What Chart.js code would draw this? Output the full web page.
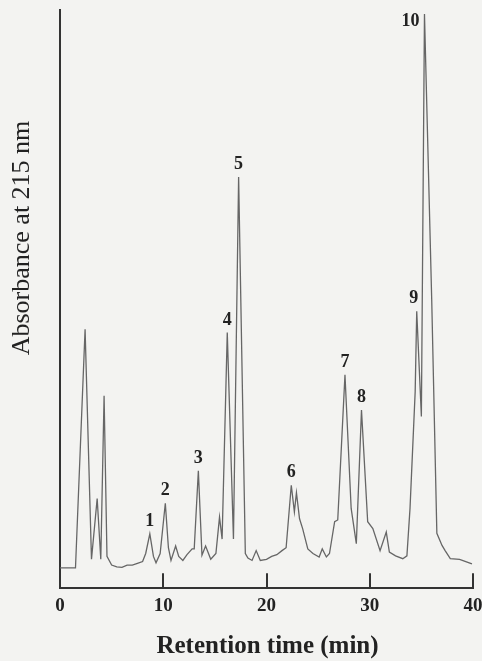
<!DOCTYPE html>
<html>
<head>
<meta charset="utf-8">
<script src="https://cdn.jsdelivr.net/npm/chart.js@4.4.1/dist/chart.umd.min.js"></script>
<style>
  html, body { margin: 0; padding: 0; background: #f3f3f1; }
  #wrap { width: 482px; height: 661px; }
</style>
</head>
<body>
<div id="wrap"><canvas id="c" width="482" height="661"></canvas></div>
<script>
// Retention time (min)
const times = [
  0, 1.5, 2.43, 3.05, 3.6, 3.95, 4.27, 4.55, 5.0, 5.5, 6.0, 6.5, 7.0, 7.5, 8.0, 8.3,
  8.7, 9.05, 9.3, 9.7, 10.2, 10.5, 10.75, 11.2, 11.5, 11.9, 12.3, 12.8, 13.0, 13.4,
  13.75, 14.1, 14.6, 15.1, 15.45, 15.7, 16.2, 16.8, 17.3, 17.95, 18.2, 18.6, 19.0,
  19.4, 20.0, 20.5, 21.0, 21.5, 21.9, 22.4, 22.7, 22.9, 23.2, 23.5, 24.0, 24.5,
  25.1, 25.4, 25.8, 26.1, 26.6, 26.9, 27.6, 28.2, 28.7, 29.2, 29.8, 30.3, 31.0,
  31.6, 31.9, 32.5, 33.2, 33.6, 33.9, 34.4, 34.55, 35.0, 35.3, 36.0, 36.5, 37.0,
  37.3, 37.8, 38.7, 39.3, 39.9
];
// Absorbance at 215 nm (relative units)
const absorbance = [
  3.5, 3.5, 44.8, 5.0, 15.5, 5.0, 33.3, 5.5, 4.0, 3.7, 3.6, 4.0, 4.0, 4.3, 4.6, 6.0,
  9.4, 5.5, 4.4, 6.0, 14.7, 7.0, 4.8, 7.3, 5.5, 4.8, 5.8, 6.8, 6.8, 20.3,
  5.7, 7.3, 5.0, 6.0, 12.3, 8.5, 44.2, 8.5, 71.1, 6.0, 5.2, 4.8, 6.5,
  4.8, 5.0, 5.5, 5.8, 6.5, 7.0, 17.8, 13.2, 16.5, 12.0, 10.3, 6.8, 6.0,
  5.4, 6.8, 5.4, 6.0, 11.5, 11.8, 36.9, 13.8, 7.7, 30.8, 11.5, 10.3, 6.5,
  9.7, 6.25, 5.6, 5.1, 5.6, 13.8, 34.0, 47.9, 29.7, 99.3, 50.0, 9.5, 7.4,
  6.5, 5.1, 5.0, 4.6, 4.2
];
// Numbered peaks
const peakNumbers = ['1', '2', '3', '4', '5', '6', '7', '8', '9', '10'];
const peakTimes   = [8.7, 10.2, 13.4, 16.2, 17.3, 22.4, 27.6, 29.2, 34.55, 35.3];
const peakHeights = [9.4, 14.7, 20.3, 44.2, 71.1, 17.8, 36.9, 30.8, 47.9, 99.3];
// Axis ticks
const xTickValues = [0, 10, 20, 30, 40];
const xTitle = 'Retention time (min)';
const yTitle = 'Absorbance at 215 nm';

const points = times.map((t, i) => ({ x: t, y: absorbance[i] }));
const SERIF = '"Liberation Serif", "DejaVu Serif", serif';

const bgPlugin = {
  id: 'bg',
  beforeDraw(chart) {
    const ctx = chart.ctx;
    ctx.save();
    ctx.fillStyle = '#f3f3f1';
    ctx.fillRect(0, 0, chart.width, chart.height);
    ctx.restore();
  }
};

const annotPlugin = {
  id: 'annot',
  afterDraw(chart) {
    const ctx = chart.ctx;
    const xs = chart.scales.x, ys = chart.scales.y;
    const area = chart.chartArea;
    ctx.save();
    // inward tick marks
    ctx.strokeStyle = '#333';
    ctx.lineWidth = 2;
    xTickValues.forEach(v => {
      if (v === 0) return;
      const px = Math.round(xs.getPixelForValue(v));
      ctx.beginPath();
      ctx.moveTo(px, area.bottom);
      ctx.lineTo(px, area.bottom - 15);
      ctx.stroke();
    });
    // peak numbers
    ctx.fillStyle = '#222';
    ctx.font = 'bold 18px ' + SERIF;
    peakNumbers.forEach((lab, i) => {
      const px = xs.getPixelForValue(peakTimes[i]);
      const py = ys.getPixelForValue(peakHeights[i]);
      if (lab === '10') {
        ctx.textAlign = 'right';
        ctx.textBaseline = 'middle';
        ctx.fillText(lab, px - 5, py + 7);
      } else if (lab === '9') {
        ctx.textAlign = 'center';
        ctx.textBaseline = 'alphabetic';
        ctx.fillText(lab, px - 3, py - 8);
      } else {
        ctx.textAlign = 'center';
        ctx.textBaseline = 'alphabetic';
        ctx.fillText(lab, px, py - 8);
      }
    });
    // x-axis title
    ctx.textAlign = 'center';
    ctx.textBaseline = 'middle';
    ctx.font = 'bold 25px ' + SERIF;
    ctx.fillText(xTitle, (area.left + area.right) / 2 + 1, 647);
    // y-axis title
    ctx.save();
    ctx.translate(22, 238);
    ctx.rotate(-Math.PI / 2);
    ctx.textAlign = 'center';
    ctx.textBaseline = 'middle';
    ctx.font = '26px ' + SERIF;
    ctx.fillStyle = '#222';
    ctx.fillText(yTitle, 0, 0);
    ctx.restore();
    ctx.restore();
  }
};

new Chart(document.getElementById('c'), {
  type: 'line',
  data: {
    datasets: [{
      data: points,
      borderColor: '#666',
      borderWidth: 1.3,
      pointRadius: 0,
      tension: 0,
      fill: false
    }]
  },
  options: {
    responsive: false,
    animation: false,
    events: [],
    layout: { padding: { left: 60, top: 10, right: 9, bottom: 38 } },
    plugins: { legend: { display: false }, tooltip: { enabled: false } },
    scales: {
      x: {
        type: 'linear',
        min: 0, max: 40,
        afterBuildTicks(axis) { axis.ticks = xTickValues.map(v => ({ value: v })); },
        afterFit(axis) { axis.paddingLeft = 0; axis.paddingRight = 0; },
        grid: { display: false, drawTicks: false },
        border: { display: true, color: '#333', width: 2 },
        ticks: {
          color: '#222',
          padding: 6,
          maxRotation: 0,
          autoSkip: false,
          font: { family: SERIF, size: 19, weight: 'bold' }
        },
        title: { display: false }
      },
      y: {
        min: 0, max: 100,
        grid: { display: false, drawTicks: false },
        border: { display: true, color: '#333', width: 2 },
        ticks: { display: false }
      }
    }
  },
  plugins: [bgPlugin, annotPlugin]
});
</script>
</body>
</html>
